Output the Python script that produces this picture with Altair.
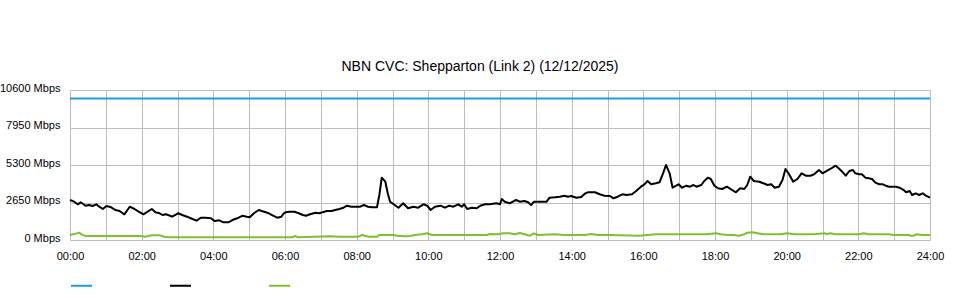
import altair as alt
import pandas as pd

# ---------------- data ----------------
series_names = ["Capacity", "Download", "Upload"]
series_colors = ["#1a9de0", "#000000", "#7dc12e"]

capacity_minutes = [0, 1440]
capacity_mbps = [10000, 10000]

download_minutes = [
    0, 7, 13, 18, 26, 32, 38, 44, 49, 55, 61, 69, 76, 83, 91, 100, 108, 115, 123, 130,
    137, 143, 150, 155, 161, 171, 181, 188, 196, 205, 212, 219, 227, 236, 242, 250, 257,
    265, 272, 280, 289, 296, 301, 308, 316, 325, 333, 340, 347, 354, 358, 361, 367, 376,
    383, 390, 395, 402, 411, 417, 423, 430, 438, 444, 451, 458, 464, 471, 478, 486, 492,
    499, 506, 514, 518, 522, 528, 532, 536, 542, 550, 558, 566, 575, 583, 592, 598, 604,
    611, 620, 628, 635, 642, 650, 656, 660, 665, 673, 681, 687, 695, 703, 714, 720, 723,
    728, 736, 747, 753, 761, 767, 772, 777, 787, 798, 803, 812, 820, 828, 834, 839, 848,
    856, 863, 867, 879, 887, 895, 904, 910, 917, 925, 932, 941, 948, 956, 962, 967, 973,
    981, 987, 993, 998, 1004, 1009, 1015, 1019, 1025, 1032, 1038, 1044, 1049, 1057, 1062,
    1068, 1073, 1079, 1085, 1092, 1100, 1106, 1115, 1122, 1129, 1134, 1139, 1145, 1154,
    1161, 1168, 1174, 1180, 1187, 1193, 1198, 1204, 1211, 1218, 1225, 1232, 1240, 1246,
    1254, 1260, 1265, 1273, 1282, 1287, 1294, 1299, 1305, 1311, 1315, 1321, 1326, 1332,
    1337, 1343, 1348, 1355, 1361, 1366, 1371, 1377, 1383, 1389, 1396, 1400, 1406, 1410,
    1416, 1422, 1428, 1433, 1440,
]
download_mbps = [
    2827, 2707, 2523, 2664, 2424, 2473, 2403, 2523, 2353, 2191, 2403, 2311, 2120, 2049, 1816,
    2353, 2191, 2000, 1816, 2000, 2191, 1957, 1887, 1767, 1816, 1647, 1887, 1767, 1647, 1484,
    1364, 1576, 1576, 1534, 1343, 1392, 1251, 1251, 1413, 1534, 1717, 1647, 1604, 1887, 2120,
    2000, 1887, 1717, 1576, 1647, 1887, 1957, 2000, 2000, 1887, 1767, 1717, 1816, 1929, 1887,
    1957, 2049, 2049, 2120, 2191, 2283, 2424, 2353, 2353, 2353, 2473, 2353, 2311, 2311, 3180,
    4403, 4120, 3300, 2707, 2523, 2283, 2594, 2240, 2353, 2283, 2523, 2424, 2120, 2353, 2424,
    2283, 2424, 2353, 2523, 2353, 2523, 2191, 2283, 2240, 2424, 2523, 2523, 2594, 2523, 2897,
    2707, 2594, 2827, 2707, 2756, 2664, 2473, 2707, 2707, 2707, 2989, 3018, 3060, 3131, 3060,
    3109, 2989, 3039, 3300, 3371, 3371, 3230, 3131, 3109, 2947, 3060, 3230, 3180, 3230, 3463,
    3767, 3936, 4170, 3936, 4007, 4078, 4714, 5300, 4714, 3696, 3837, 3936, 3696, 3837, 3767,
    3887, 3767, 3887, 4170, 4403, 4311, 3837, 3654, 3604, 3767, 3604, 3371, 3654, 3604, 3887,
    4473, 4170, 4120, 4007, 3887, 3936, 3696, 3767, 4240, 5018, 4643, 4120, 4311, 4714, 4544,
    4544, 4643, 4947, 4714, 4827, 5018, 5251, 5067, 4784, 4544, 4876, 4947, 4714, 4643, 4643,
    4403, 4360, 4311, 4078, 3936, 3936, 3837, 3767, 3767, 3767, 3696, 3533, 3371, 3463, 3180,
    3300, 3180, 3300, 3131, 2989,
]

upload_minutes = [
    0, 5, 10, 15, 20, 26, 60, 120, 125, 130, 137, 150, 158, 165, 180, 240, 300, 360, 372,
    377, 382, 436, 450, 483, 489, 500, 515, 517, 542, 547, 561, 569, 578, 589, 598, 606, 698,
    703, 717, 725, 736, 745, 753, 761, 770, 777, 784, 812, 828, 862, 873, 884, 904, 953, 981,
    1065, 1082, 1090, 1101, 1112, 1120, 1129, 1134, 1143, 1151, 1162, 1190, 1201, 1212, 1246,
    1263, 1268, 1273, 1282, 1304, 1321, 1329, 1337, 1371, 1379, 1404, 1410, 1418, 1427, 1440,
]
upload_mbps = [
    353, 403, 450, 516, 380, 283, 283, 283, 233, 260, 330, 330, 233, 200, 190, 190, 190, 190,
    190, 283, 190, 260, 233, 233, 353, 233, 233, 353, 353, 304, 261, 283, 353, 403, 473, 353,
    353, 424, 403, 473, 473, 403, 495, 403, 304, 473, 353, 403, 353, 353, 424, 353, 353, 304,
    403, 403, 473, 403, 353, 353, 304, 403, 516, 541, 473, 403, 403, 473, 403, 403, 473, 424,
    473, 403, 403, 403, 473, 403, 403, 353, 353, 283, 403, 353, 353,
]

title_text = "NBN CVC: Shepparton (Link 2) (12/12/2025)"
y_ticks = [0, 2650, 5300, 7950, 10600]
x_ticks = list(range(0, 1441, 60))

# ---------------- table ----------------
frames = []
for name, mins, vals in [
    (series_names[0], capacity_minutes, capacity_mbps),
    (series_names[1], download_minutes, download_mbps),
    (series_names[2], upload_minutes, upload_mbps),
]:
    frames.append(pd.DataFrame({"minute": mins, "mbps": vals, "series": name}))
df = pd.concat(frames, ignore_index=True)

FONT = "Liberation Sans"

x_label_expr = (
    "datum.value % 120 == 0 ? "
    "((datum.value < 600 ? '0' : '') + floor(datum.value / 60) + ':00') : ''"
)

chart = (
    alt.Chart(df)
    .mark_line(strokeWidth=2, strokeJoin="round")
    .encode(
        x=alt.X(
            "minute:Q",
            scale=alt.Scale(domain=[0, 1440], nice=False, zero=False),
            axis=alt.Axis(
                values=x_ticks,
                labelExpr=x_label_expr,
                title=None,
                grid=True,
                ticks=False,
                domain=False,
                labelFlush=False,
                labelOverlap=False,
                labelPadding=10,
            ),
        ),
        y=alt.Y(
            "mbps:Q",
            scale=alt.Scale(domain=[0, 10600], nice=False),
            axis=alt.Axis(
                values=y_ticks,
                labelExpr="datum.value + ' Mbps'",
                title=None,
                grid=True,
                ticks=False,
                domain=False,
                labelPadding=10,
                labelOffset=-2,
            ),
        ),
        color=alt.Color(
            "series:N",
            scale=alt.Scale(domain=series_names, range=series_colors),
            legend=alt.Legend(
                title=None,
                orient="none",
                legendX=0,
                legendY=184,
                direction="horizontal",
                symbolType="stroke",
                symbolSize=441,
                symbolStrokeWidth=2,
                labelExpr="''",
                labelOffset=0,
                columnPadding=70,
                padding=0,
            ),
        ),
        detail="series:N",
    )
    .properties(
        width=860,
        height=150,
        title=alt.TitleParams(
            title_text,
            font=FONT,
            fontSize=14,
            fontWeight="normal",
            color="#000000",
            anchor="middle",
            dx=-20,
            offset=8,
        ),
        autosize=alt.AutoSizeParams(type="none"),
        padding={"left": 70, "top": 90, "right": 30, "bottom": 60},
        background="#ffffff",
    )
    .configure_view(stroke=None)
    .configure_axis(
        labelFont=FONT,
        labelFontSize=11,
        labelColor="#000000",
        gridColor="#bdbdbd",
        gridWidth=1,
        gridOpacity=1,
    )
)

chart.save("out.html", embed_options={"renderer": "svg", "actions": False})
